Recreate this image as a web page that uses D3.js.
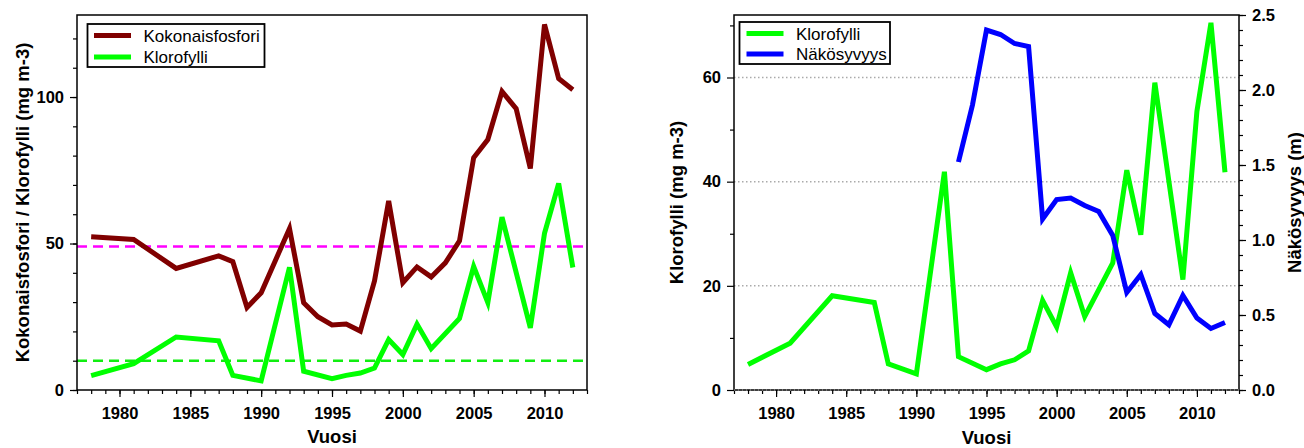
<!DOCTYPE html>
<html>
<head>
<meta charset="utf-8">
<script src="https://cdn.jsdelivr.net/npm/d3@7"></script>
<style>
body{margin:0;background:#fff;}
text{font-family:"Liberation Sans",Arial,sans-serif;}
.tick text{font-weight:bold;font-size:16.5px;fill:#000;}
.atitle{font-weight:bold;font-size:18.5px;}
.legtext{font-size:17px;}
</style>
</head>
<body>
<div id="chart"></div>
<script>
// data
var years_tp=[1978,1981,1984,1987,1988,1989,1990,1992,1993,1994,1995,1996,1997,1998,1999,2000,2001,2002,2003,2004,2005,2006,2007,2008,2009,2010,2011,2012];
var tp=[52.3,51.4,41.5,45.8,43.8,28.2,33.2,55.1,29.8,25,22.2,22.5,20.1,37.2,64.5,36.6,42,38.6,43.4,50.9,79.3,85.5,101.9,96,75.6,124.8,106.3,102.5];
var years_chl=[1978,1981,1984,1987,1988,1990,1992,1993,1995,1996,1997,1998,1999,2000,2001,2002,2004,2005,2006,2007,2009,2010,2011,2012];
var chl=[4.9,9.0,18.1,16.8,5.0,3.1,41.9,6.4,3.9,5.0,5.8,7.5,17.2,12.1,22.5,14.1,24.4,42.2,29.8,59.0,21.2,53.5,70.5,41.8];
var years_secchi=[1993,1994,1995,1996,1997,1998,1999,2000,2001,2002,2003,2004,2005,2006,2007,2008,2009,2010,2011,2012];
var secchi=[1.52,1.90,2.40,2.37,2.31,2.29,1.14,1.27,1.28,1.23,1.19,1.03,0.65,0.77,0.51,0.435,0.63,0.48,0.41,0.45];
var tp_limit=49;
var chl_limit=10;
var year_ticks=[1980,1985,1990,1995,2000,2005,2010];

var width=1304, height=448;
var svg=d3.select("#chart").append("svg")
  .attr("width",width).attr("height",height);

var c_tp="#800000", c_chl="#00ff00", c_sec="#0000ff";

function zip(xs,ys){
  return xs.map(function(x,i){return [x,ys[i]];});
}
var minorYears=d3.range(1977,2014);

function xAxis(g,x,y1){
  g.append("g").attr("transform","translate(0,"+y1+")")
    .call(d3.axisBottom(x).tickValues(minorYears).tickSize(4).tickFormat(""))
    .call(function(a){a.select(".domain").remove();});
  var ax=g.append("g").attr("transform","translate(0,"+y1+")")
    .call(d3.axisBottom(x).tickValues(year_ticks).tickSize(7).tickPadding(10).tickFormat(d3.format("d")));
  ax.select(".domain").remove();
}

function lineOf(x,y){
  return d3.line().x(function(d){return x(d[0]);}).y(function(d){return y(d[1]);});
}

// ---------- left chart ----------
var L={x0:77,x1:587,y0:15,y1:390};
var xL=d3.scaleLinear().domain([1977,2013]).range([L.x0,L.x1]);
var yL=d3.scaleLinear().domain([0,128]).range([L.y1,L.y0]);
var gL=svg.append("g");

gL.append("g").attr("transform","translate("+L.x0+",0)")
  .call(d3.axisLeft(yL).tickValues(d3.range(0,121,10)).tickSize(4).tickFormat(""))
  .call(function(a){a.select(".domain").remove();});
gL.append("g").attr("transform","translate("+L.x0+",0)")
  .call(d3.axisLeft(yL).tickValues([0,50,100]).tickSize(7).tickPadding(6))
  .call(function(a){a.select(".domain").remove();});
xAxis(gL,xL,L.y1);

gL.append("line").attr("x1",L.x0).attr("x2",L.x1).attr("y1",yL(tp_limit)).attr("y2",yL(tp_limit))
  .attr("stroke","#ff00ff").attr("stroke-width",2.5).attr("stroke-dasharray","10,6");
gL.append("line").attr("x1",L.x0).attr("x2",L.x1).attr("y1",yL(chl_limit)).attr("y2",yL(chl_limit))
  .attr("stroke","#11ee11").attr("stroke-width",2.5).attr("stroke-dasharray","10,6");

gL.append("path").datum(zip(years_chl,chl)).attr("d",lineOf(xL,yL))
  .attr("fill","none").attr("stroke",c_chl).attr("stroke-width",5);
gL.append("path").datum(zip(years_tp,tp)).attr("d",lineOf(xL,yL))
  .attr("fill","none").attr("stroke",c_tp).attr("stroke-width",5);

gL.append("rect").attr("x",L.x0).attr("y",L.y0).attr("width",L.x1-L.x0).attr("height",L.y1-L.y0)
  .attr("fill","none").attr("stroke","#000").attr("stroke-width",1.5);

// legend
var legL=gL.append("g");
legL.append("rect").attr("x",87.5).attr("y",24).attr("width",177).attr("height",43)
  .attr("fill","#fff").attr("stroke","#000").attr("stroke-width",1.8);
[["Kokonaisfosfori",c_tp],["Klorofylli",c_chl]].forEach(function(d,i){
  var yy=35.5+i*21.5;
  legL.append("line").attr("x1",94).attr("x2",131).attr("y1",yy).attr("y2",yy)
    .attr("stroke",d[1]).attr("stroke-width",5);
  legL.append("text").attr("class","legtext").attr("x",143.5).attr("y",yy+6).text(d[0]);
});

gL.append("text").attr("class","atitle")
  .attr("transform","translate(29,"+((L.y0+L.y1)/2)+") rotate(-90)")
  .style("text-anchor","middle").text("Kokonaisfosfori / Klorofylli (mg m-3)");
gL.append("text").attr("class","atitle").attr("x",(L.x0+L.x1)/2).attr("y",443)
  .style("text-anchor","middle").text("Vuosi");

// ---------- right chart ----------
var R={x0:734,x1:1239,y0:15,y1:390};
var xR=d3.scaleLinear().domain([1977,2013]).range([R.x0,R.x1]);
var yRl=d3.scaleLinear().domain([0,72]).range([R.y1,R.y0]);
var yRr=d3.scaleLinear().domain([0,2.5]).range([R.y1,R.y0]);
var gR=svg.append("g");

// dotted grid
gR.selectAll(".grid").data([20,40,60]).enter().append("line")
  .attr("x1",R.x0).attr("x2",R.x1)
  .attr("y1",function(d){return yRl(d);}).attr("y2",function(d){return yRl(d);})
  .attr("stroke","#aaa").attr("stroke-width",1.5).attr("stroke-dasharray","1.5,2.5");

gR.append("g").attr("transform","translate("+R.x0+",0)")
  .call(d3.axisLeft(yRl).tickValues([10,30,50,70]).tickSize(4).tickFormat(""))
  .call(function(a){a.select(".domain").remove();});
gR.append("g").attr("transform","translate("+R.x0+",0)")
  .call(d3.axisLeft(yRl).tickValues([0,20,40,60]).tickSize(7).tickPadding(6))
  .call(function(a){a.select(".domain").remove();});
gR.append("g").attr("transform","translate("+R.x1+",0)")
  .call(d3.axisRight(yRr).tickValues(d3.range(0,26).map(function(i){return i/10;})).tickSize(4).tickFormat(""))
  .call(function(a){a.select(".domain").remove();});
gR.append("g").attr("transform","translate("+R.x1+",0)")
  .call(d3.axisRight(yRr).tickValues([0,0.5,1,1.5,2,2.5]).tickSize(7).tickPadding(6).tickFormat(d3.format(".1f")))
  .call(function(a){a.select(".domain").remove();});
xAxis(gR,xR,R.y1);

gR.append("path").datum(zip(years_chl,chl)).attr("d",lineOf(xR,yRl))
  .attr("fill","none").attr("stroke",c_chl).attr("stroke-width",5);
gR.append("path").datum(zip(years_secchi,secchi)).attr("d",lineOf(xR,yRr))
  .attr("fill","none").attr("stroke",c_sec).attr("stroke-width",5);

gR.append("rect").attr("x",R.x0).attr("y",R.y0).attr("width",R.x1-R.x0).attr("height",R.y1-R.y0)
  .attr("fill","none").attr("stroke","#000").attr("stroke-width",1.5);
// dotted look of the bottom axis line
gR.append("line").attr("x1",R.x0).attr("x2",R.x1).attr("y1",R.y1).attr("y2",R.y1)
  .attr("stroke","#888").attr("stroke-width",1.5).attr("stroke-dasharray","1,3");

var legR=gR.append("g");
legR.append("rect").attr("x",739.5).attr("y",22).attr("width",150.5).attr("height",42)
  .attr("fill","#fff").attr("stroke","#000").attr("stroke-width",1.8);
[["Klorofylli",c_chl],["Näkösyvyys",c_sec]].forEach(function(d,i){
  var yy=33.5+i*20.5;
  legR.append("line").attr("x1",746.5).attr("x2",783.5).attr("y1",yy).attr("y2",yy)
    .attr("stroke",d[1]).attr("stroke-width",5);
  legR.append("text").attr("class","legtext").attr("x",796).attr("y",yy+6).text(d[0]);
});

gR.append("text").attr("class","atitle")
  .attr("transform","translate(683,"+((R.y0+R.y1)/2)+") rotate(-90)")
  .style("text-anchor","middle").text("Klorofylli (mg m-3)");
gR.append("text").attr("class","atitle")
  .attr("transform","translate(1301,"+((R.y0+R.y1)/2)+") rotate(-90)")
  .style("text-anchor","middle").text("Näkösyvyys (m)");
gR.append("text").attr("class","atitle").attr("x",(R.x0+R.x1)/2).attr("y",443.5)
  .style("text-anchor","middle").text("Vuosi");

svg.selectAll(".tick line").attr("stroke","#000").attr("stroke-width",1.2);
</script>
</body>
</html>
